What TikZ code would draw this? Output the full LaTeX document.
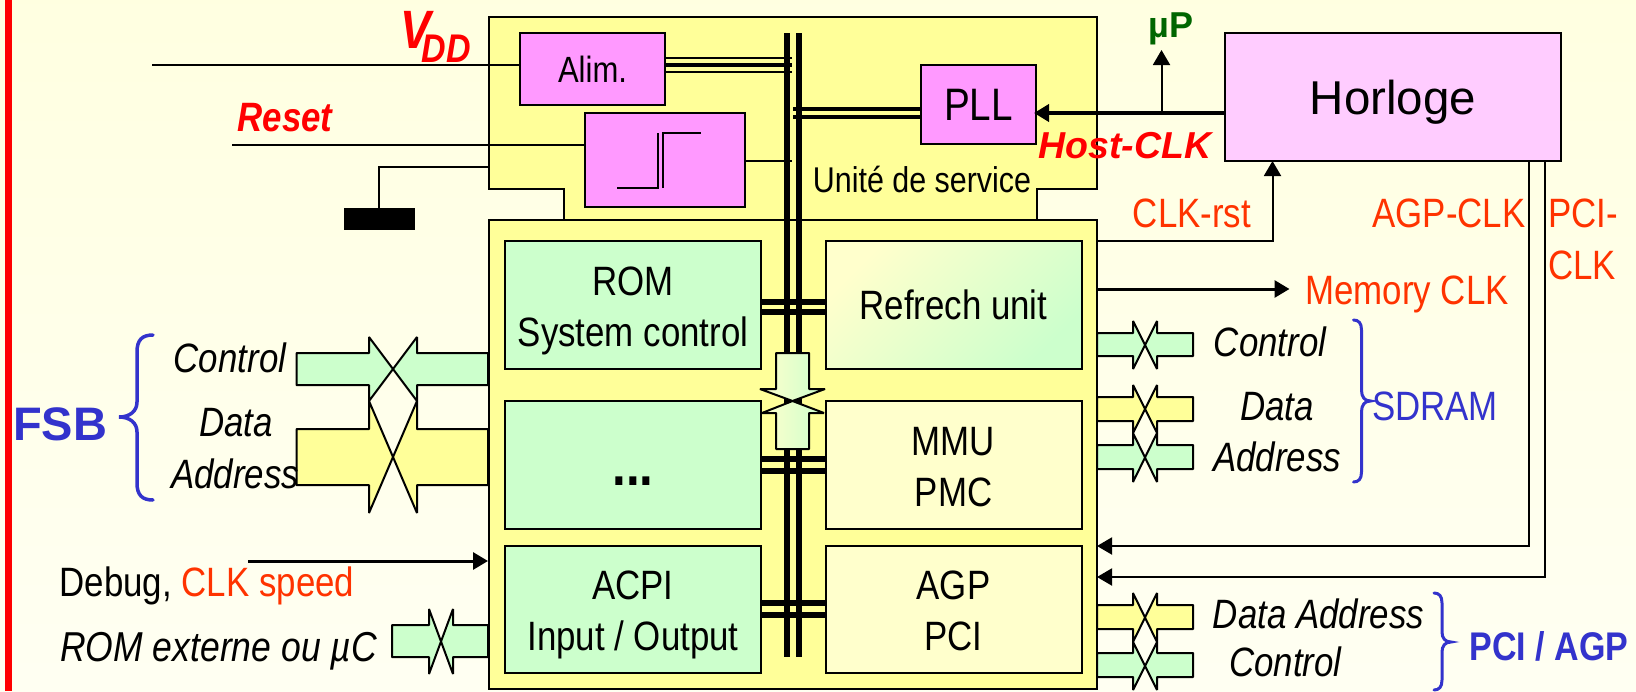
\documentclass[tikz,border=0pt]{standalone}
\usepackage{fontspec}
\setmainfont[FakeStretch=0.85]{Liberation Sans}
\newfontfamily\wideface{Liberation Sans}
\usetikzlibrary{arrows.meta}
\definecolor{unityellow}{HTML}{FFFF99}
\definecolor{paleyellow}{HTML}{FFFFCC}
\definecolor{palegreen}{HTML}{CCFFCC}
\definecolor{boxpink}{HTML}{FF99FF}
\definecolor{clockpink}{HTML}{FFCCFF}
\definecolor{clkred}{HTML}{FF3300}
\definecolor{busblue}{HTML}{3333CC}
\definecolor{updarkgreen}{HTML}{006600}
\tikzset{
	unitbox/.style={draw, line width=2pt, inner sep=0pt, outer sep=0pt, align=center, text depth=0pt, font=\fontsize{41}{51}\selectfont},
	twolines/.style={text height=82pt, text depth=0pt},
	plaintext/.style={inner sep=0pt, align=center, text depth=0pt, font=\fontsize{41}{51}\selectfont},
	slanttext/.style={plaintext, font=\fontsize{41}{51}\selectfont\itshape},
	redtext/.style={inner sep=0pt, text depth=0pt, text=red, font=\fontsize{41}{44}\selectfont\bfseries\itshape},
	clktext/.style={plaintext, text=clkred},
	wire/.style={line width=2pt},
	fatwire/.style={line width=3.5pt},
	buswire/.style={line width=5.5pt},
	tipped/.style={line width=2pt, -{Triangle[length=15pt, width=17pt]}},
	bracket/.style={draw=busblue, line width=3.5pt, line cap=round},
}
\begin{document}
\begin{tikzpicture}[x=1pt, y=-1pt]
	\useasboundingbox (0,0) rectangle (1636,691);
	\shade[top color=yellow!12!white, middle color=white, bottom color=yellow!5!white] (0,0) rectangle (1636,691);
	\fill[red] (5,0) rectangle (12,691);

	% bus arrows, drawn first so that the main box covers their tails
	\foreach \xtail/\xa/\xb/\xend/\ya/\yb/\tipa/\tipb/\col in {
		296.5/369/417/488/353/385/337/401/palegreen,
		296.5/369/417/488/429/485/401/513/unityellow,
		392/429/453/488/625/657/609/674/palegreen,
		1097/1133/1157/1193/333/356/321/369/palegreen,
		1097/1133/1157/1193/397/421/385/433/unityellow,
		1097/1133/1157/1193/445/469/433/482/palegreen,
		1097/1133/1157/1193/605/629/593/642/unityellow,
		1097/1133/1157/1193/653/677/642/690/palegreen} {
		\draw[wire, line join=bevel, fill=\col] (\xtail,\ya) -- (\xa,\ya) -- (\xa,\tipa) -- ({(\xa+\xb)/2},{(\tipa+\tipb)/2}) -- (\xa,\tipb) -- (\xa,\yb) -- (\xtail,\yb) -- cycle;
		\draw[wire, line join=bevel, fill=\col] (\xend,\ya) -- (\xb,\ya) -- (\xb,\tipa) -- ({(\xa+\xb)/2},{(\tipa+\tipb)/2}) -- (\xb,\tipb) -- (\xb,\yb) -- (\xend,\yb) -- cycle;
	}

	\draw[wire, fill=unityellow] (488.5,17) -- (1097,17) -- (1097,189) -- (1037,189) -- (1037,220) -- (564,220) -- (564,189) -- (488.5,189) -- cycle;
	\node[unitbox, fill=unityellow, minimum width=608.5, minimum height=469] (mainunit) at (792.75,454.5) {};

	\node[unitbox, fill=boxpink, font=\fontsize{36.5}{40}\selectfont, minimum width=145, minimum height=72] (alim) at (592.5,69) {Alim.};
	\node[unitbox, fill=boxpink, minimum width=160, minimum height=94] (trigger) at (665,160) {};
	\node[unitbox, fill=boxpink, font=\fontsize{45.5}{48}\selectfont, minimum width=115.5, minimum height=79] (pll) at (978.5,104.5) {PLL};
	\node[unitbox, fill=clockpink, font=\wideface\fontsize{47.5}{50}\selectfont, minimum width=336, minimum height=128] (horloge) at (1393,97) {Horloge};
	\node[draw, fill=black, inner sep=0pt, minimum width=70, minimum height=21] (gnd) at (379,218.5) {};

	\node[unitbox, twolines, fill=palegreen, minimum width=256, minimum height=128] (rom) at (633,305) {ROM\\System control};
	\node[unitbox, top color=paleyellow, bottom color=palegreen, shading angle=45, minimum width=256, minimum height=128] (refrech) at (953.5,305) {Refrech unit};
	\node[unitbox, fill=palegreen, minimum width=256, minimum height=128] (dots) at (633,465) {};
	\node[unitbox, twolines, fill=paleyellow, minimum width=256, minimum height=128] (mmu) at (953.5,465) {MMU\\PMC};
	\node[unitbox, twolines, fill=palegreen, minimum width=256, minimum height=127] (acpi) at (633,609.5) {ACPI\\Input / Output};
	\node[unitbox, twolines, fill=paleyellow, minimum width=256, minimum height=127] (agp) at (953.5,609.5) {AGP\\PCI};

	\coordinate (busatop) at (787,33);
	\coordinate (busabot) at (787,657);
	\coordinate (busbtop) at (799,33);
	\coordinate (busbbot) at (799,657);
	\draw[buswire] (busatop) -- (busabot);
	\draw[buswire] (busbtop) -- (busbbot);
	\foreach \ybus in {302,312,459,471,603,615}
		\draw[buswire] (rom.east |- 0,\ybus) -- (refrech.west |- 0,\ybus);
	\foreach \ybus in {109,117}
		\draw[fatwire] (793,\ybus) -- (pll.west |- 0,\ybus);
	\draw[line width=2.5pt] (alim.east |- 0,58) -- (792,58);
	\draw[line width=4pt] (alim.east |- 0,65) -- (792,65);
	\draw[line width=2.5pt] (alim.east |- 0,72) -- (792,72);
	\draw[wire] (trigger.east |- 0,161) -- (792,161);

	% central double arrow
	\draw[wire, line join=bevel, left color=paleyellow, right color=palegreen] (776,353) -- (809,353) -- (809,389) -- (825,389) -- (792.5,401) -- (760,389) -- (776,389) -- cycle;
	\draw[wire, line join=bevel, left color=paleyellow, right color=palegreen] (776,449) -- (809,449) -- (809,413) -- (824,413) -- (792.5,401) -- (762,413) -- (776,413) -- cycle;

	% step drawn inside the trigger box
	\draw[wire] (617,188) -- (658,188) -- (658,133);
	\draw[wire] (663,188) -- (663,133) -- (701,133);

	\coordinate (vddin) at (152,65);
	\coordinate (resetin) at (232,145);
	\coordinate (gndout) at (488.5,167);
	\draw[wire] (vddin) -- (vddin -| alim.west);
	\draw[wire] (resetin) -- (resetin -| trigger.west);
	\draw[wire] (gndout) -| (gnd.north);

	\coordinate (hostout) at (1225,113);
	\coordinate (hostin) at (1034,113);
	\coordinate (uptap) at (1161.5,113);
	\coordinate (uptip) at (1161.5,50);
	\coordinate (rstout) at (1097,241);
	\coordinate (rstin) at (1272.5,161);
	\coordinate (memout) at (1097,289);
	\coordinate (memtip) at (1289.5,289);
	\coordinate (agpout) at (1528.5,161);
	\coordinate (agpin) at (1097,546);
	\coordinate (pciout) at (1544.5,161);
	\coordinate (pciin) at (1097,577);
	\coordinate (debugin) at (248,561);
	\coordinate (debugtip) at (488,561);
	\draw[line width=4pt, -{Triangle[length=15pt, width=17pt]}] (hostout) -- (hostin);
	\draw[tipped] (uptap) -- (uptip);
	\draw[tipped] (rstout) -| (rstin);
	\draw[tipped, line width=3pt] (memout) -- (memtip);
	\draw[tipped] (agpout) |- (agpin);
	\draw[tipped] (pciout) |- (pciin);
	\draw[tipped, line width=3pt] (debugin) -- (debugtip);

	% braces
	\draw[bracket] (153,335) .. controls (142,335) and (137,340) .. (137,352) -- (137,402) .. controls (137,411) and (130,417) .. (119,417) .. controls (130,417) and (137,423) .. (137,432) -- (137,483) .. controls (137,495) and (142,500) .. (153,500);
	\draw[bracket, line width=3pt] (1353.5,320) .. controls (1358.5,320) and (1361.5,323) .. (1361.5,330) -- (1361.5,390) .. controls (1361.5,397) and (1364.5,401) .. (1370.5,401) .. controls (1364.5,401) and (1361.5,405) .. (1361.5,412) -- (1361.5,472) .. controls (1361.5,479) and (1358.5,482) .. (1353.5,482);
	\draw[bracket, line width=3pt] (1434,593) .. controls (1439,593) and (1442,596) .. (1442,603) -- (1442,632) .. controls (1442,638) and (1445,642) .. (1451,642) .. controls (1445,642) and (1442,646) .. (1442,652) -- (1442,680) .. controls (1442,687) and (1439,690) .. (1434,690);

	\node[plaintext, anchor=base, font=\fontsize{58}{60}\selectfont\bfseries] (ellipsis) at (633,485) {...};
	\node[plaintext, font=\fontsize{35.8}{40}\selectfont] (service) at (922,179) {Unité de service};
	\node[inner sep=0pt, anchor=base west, text=red, font=\fontsize{40}{44}\selectfont\bfseries\itshape] (vdd) at (400,48) {{\fontsize{54}{56}\selectfont V}\kern-9pt\raisebox{-14pt}{DD}};
	\node[redtext] (reset) at (285,117) {Reset};
	\node[redtext, font=\wideface\fontsize{37.5}{40}\selectfont\bfseries\itshape] (hostclk) at (1125,145) {Host-CLK};
	\node[plaintext, text=updarkgreen, font=\wideface\fontsize{36}{40}\selectfont\bfseries] (up) at (1171,25) {µP};

	\node[clktext] (clkrst) at (1192,213) {CLK-rst};
	\node[clktext] (agpclk) at (1449,213) {AGP-CLK};
	\node[clktext, anchor=west] (pciclka) at (1548,213) {PCI-};
	\node[clktext, anchor=west] (pciclkb) at (1548,265) {CLK};
	\node[clktext] (memclk) at (1407,290) {Memory CLK};

	\node[plaintext, text=busblue, font=\wideface\fontsize{47}{50}\selectfont\bfseries] (fsb) at (60,424) {FSB};
	\node[slanttext] (fsbcontrol) at (230,358) {Control};
	\node[slanttext] (fsbdata) at (236,422) {Data};
	\node[slanttext] (fsbaddress) at (235,474) {Address};
	\node[plaintext, anchor=west] (debug) at (59.5,582) {Debug, \textcolor{clkred}{CLK speed}};
	\node[slanttext, anchor=west, font=\fontsize{41.8}{51}\selectfont\itshape] (romext) at (60,647) {ROM externe ou µC};

	\node[slanttext] (sdcontrol) at (1270,342) {Control};
	\node[slanttext] (sddata) at (1277,406) {Data};
	\node[slanttext] (sdaddress) at (1277,457) {Address};
	\node[plaintext, text=busblue] (sdram) at (1435,406) {SDRAM};
	\node[slanttext] (pcidata) at (1318.5,614) {Data Address};
	\node[slanttext] (pcicontrol) at (1285.5,662) {Control};
	\node[plaintext, text=busblue, font=\fontsize{40}{44}\selectfont\bfseries] (pciagp) at (1549,646) {PCI / AGP};
\end{tikzpicture}
\end{document}
